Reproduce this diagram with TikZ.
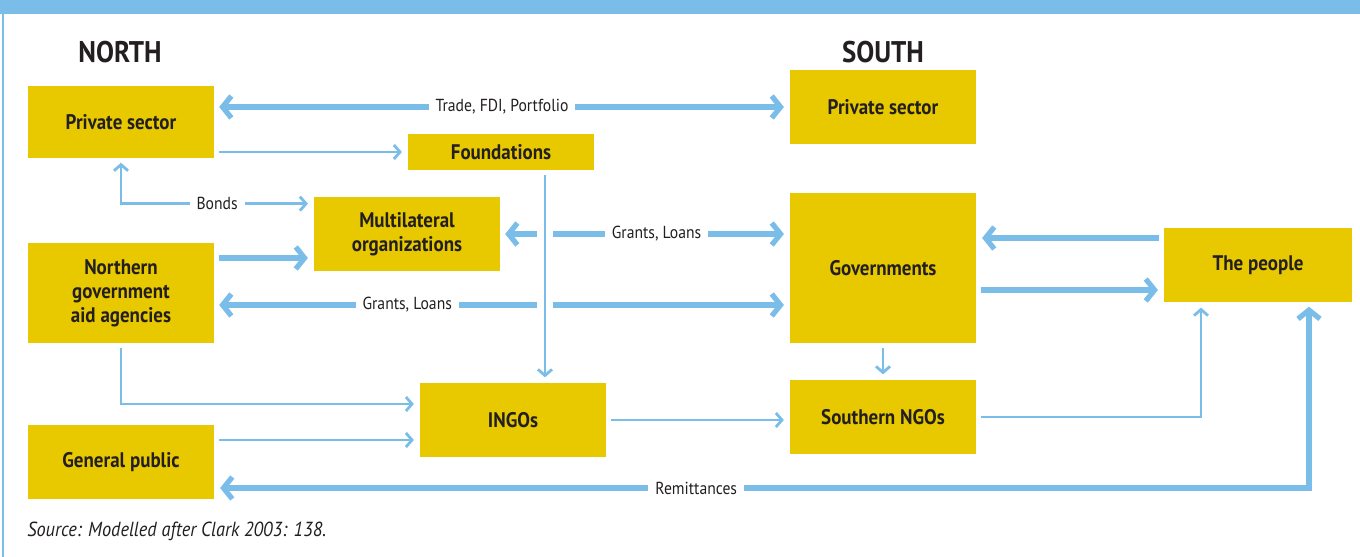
\documentclass[tikz,border=0pt]{standalone}
\usepackage{fontspec}
\setmainfont{PT Sans}[FakeStretch=0.9]
\usepackage{xcolor}
\usetikzlibrary{arrows.meta}
\definecolor{mustard}{HTML}{E8C900}
\definecolor{sky}{HTML}{7ABDE8}
\definecolor{ink}{HTML}{231F20}

\begin{document}
\begin{tikzpicture}[
    x=0.02cm, y=-0.02cm,
    barb/.tip={Straight Barb[length=3.5pt, width=8pt]},
    bigbarb/.tip={Straight Barb[length=5pt, width=12.5pt]},
    box/.style={fill=mustard, text=ink, minimum width=3.74cm,
                minimum height=1.48cm, inner sep=0pt, align=center,
                font=\fontsize{12}{13.6}\selectfont\bfseries},
    head/.style={text=ink, font=\fontsize{17}{19}\selectfont\bfseries},
    lbl/.style={fill=white, text=ink, inner xsep=4pt, inner ysep=1pt,
                font=\fontsize{9.9}{11}\selectfont},
    arr/.style={-barb, sky, line width=1.6pt,
                shorten <=2.5pt, shorten >=3pt},
    bigarr/.style={-bigbarb, sky, line width=3pt,
                   shorten <=2.5pt, shorten >=3pt}
  ]
    \useasboundingbox (0,0) rectangle (1360,557);

    % frame
    \fill[sky] (0,0) rectangle (1360,14);
    \draw[sky, line width=0.06cm] (3,14) -- (3,557);

    \node[head] (north) at (120,52) {NORTH};
    \node[head] (south) at (883,52) {SOUTH};

    % north side
    \node[box, minimum height=1.44cm] (pn) at (121,122) {Private sector};
    \node[box, minimum height=0.72cm] (fd) at (501,152) {Foundations};
    \node[box] (ml) at (407,234) {Multilateral\\organizations};
    \node[box, minimum height=2cm] (ng) at (121,293) {Northern\\government\\aid agencies};
    \node[box] (gp) at (121,462) {General public};
    \node[box] (ing) at (513,420) {INGOs};

    % south side
    \node[box] (ps) at (883,107) {Private sector};
    \node[box, minimum height=3cm] (gv) at (883,268) {Governments};
    \node[box] (sn) at (883,417) {Southern NGOs};
    \node[box, minimum width=3.78cm] (tp) at (1258,265) {The people};

    \node[anchor=west, inner sep=0pt, text=ink, font=\fontsize{11.6}{13}\selectfont\itshape]
      (src) at (27,531) {Source: Modelled after Clark 2003: 138.};

    % helper points on the box sides
    \coordinate (bondin) at ([yshift=-0.14cm]ml.north west);
    \coordinate (mlin) at ([yshift=-0.48cm]ml.west);
    \coordinate (glout) at ([yshift=-0.24cm]ng.east);
    \coordinate (fdout) at ([xshift=0.88cm]fd.south);
    \coordinate (ingtop) at ([yshift=0.32cm]ing.west);
    \coordinate (ingbot) at ([yshift=-0.4cm]ing.west);
    \coordinate (tpin) at ([xshift=-1.14cm]tp.south);
    \coordinate (tpout) at ([yshift=0.54cm]tp.west);
    \coordinate (tpget) at ([yshift=-0.5cm]tp.west);
    \coordinate (remup) at ([xshift=1.02cm]tp.south);
    \coordinate (remleft) at ([yshift=-0.52cm]gp.east);

    % flows
    \draw[bigarr, bigbarb-bigbarb] (pn.east |- ps.west) -- node[lbl] {Trade, FDI, Portfolio} (ps.west);
    \draw[arr] (pn.east |- fd.west) -- (fd.west);
    \draw[arr, barb-barb] (pn.south) |- node[lbl, pos=0.75] {Bonds} (bondin);
    \draw[bigarr] (ng.east |- mlin) -- (mlin);
    \draw[bigarr, bigbarb-bigbarb] (ml.east) -- node[lbl, pos=0.54] {Grants, Loans} (gv.west |- ml.east);
    \draw[bigarr, bigbarb-bigbarb] (glout) -- node[lbl, pos=0.335] {Grants, Loans} (glout -| gv.west);
    \draw[arr, preaction={draw=white, line width=9pt, arrows=-}] (fdout) -- (fdout |- ing.north);
    \draw[arr] (ng.south) |- (ingtop);
    \draw[arr] (gp.east |- ingbot) -- (ingbot);
    \draw[arr] (ing.east) -- (sn.west |- ing.east);
    \draw[arr] (gv.south) -- (sn.north);
    \draw[arr] (sn.east) -| (tpin);
    \draw[bigarr] (tpout) -- (gv.east |- tpout);
    \draw[bigarr] (gv.east |- tpget) -- (tpget);
    \draw[bigarr, bigbarb-bigbarb] (remup) |- node[lbl, pos=0.78] {Remittances} (remleft);
\end{tikzpicture}
\end{document}
